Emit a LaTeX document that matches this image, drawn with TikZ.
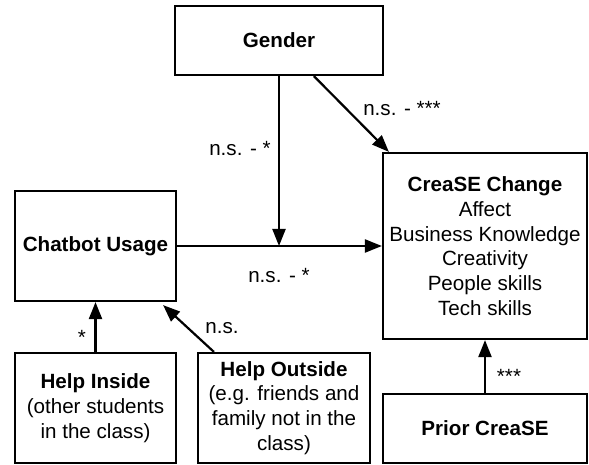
\documentclass[tikz,border=0pt]{standalone}
\usepackage{fontspec}
\setmainfont{Liberation Sans}
\usetikzlibrary{arrows.meta,calc}
\begin{document}
\begin{tikzpicture}[x=1pt,y=-1pt,
  every node/.style={font=\fontsize{20.6}{24.7}\selectfont},
  box/.style={draw, line width=2.2pt, inner sep=0pt, align=center, minimum width=#1},
  arr/.style={line width=2.2pt, -{Triangle[length=17pt,width=13pt]}},
  lbl/.style={anchor=base, inner sep=0pt}]
\useasboundingbox (0,0) rectangle (589,465);
\node[box=208, minimum height=69] (gender) at (279,40.5) {\textbf{Gender}};
\node[box=204, minimum height=186] (crease) at (485,246) {\textbf{CreaSE Change}\\Affect\\Business Knowledge\\Creativity\\People skills\\Tech skills};
\node[box=161, minimum height=110] (chat) at (95.5,246) {\textbf{Chatbot Usage}};
\node[box=161, minimum height=110] (inside) at (95.5,408) {\textbf{Help Inside}\\(other students\\in the class)};
\node[box=172, minimum height=110] (outside) at (284,408) {\textbf{Help Outside}\\(e.g. friends and\\family not in the\\class)};
\node[box=204, minimum height=69] (prior) at (485,428.5) {\textbf{Prior CreaSE}};
\coordinate (mid) at (279,246);
\coordinate (gstart) at ($(gender.south west)+(140,0)$);
\coordinate (ctip) at ($(crease.north west)+(7,0)$);
\coordinate (ostart) at ($(outside.north west)+(17,0)$);
\coordinate (chtip) at ($(chat.south east)+(-14,3)$);
\draw[arr] (gender.south) -- (mid);
\draw[arr] (chat.east) -- (crease.west);
\draw[arr] (gstart) -- (ctip);
\draw[arr] (inside.north) -- (chat.south);
\draw[arr] (ostart) -- (chtip);
\draw[arr] (prior.north) -- (crease.south);
\node[lbl] (l1) at (402,116) {n.s. - ***};
\node[lbl] (l2) at (240,155.5) {n.s. - *};
\node[lbl] (l3) at (279,282.5) {n.s. - *};
\node[lbl] (l4) at (222,333.5) {n.s.};
\node[lbl] (l5) at (82,344) {*};
\node[lbl] (l6) at (509,383) {***};
\end{tikzpicture}
\end{document}
